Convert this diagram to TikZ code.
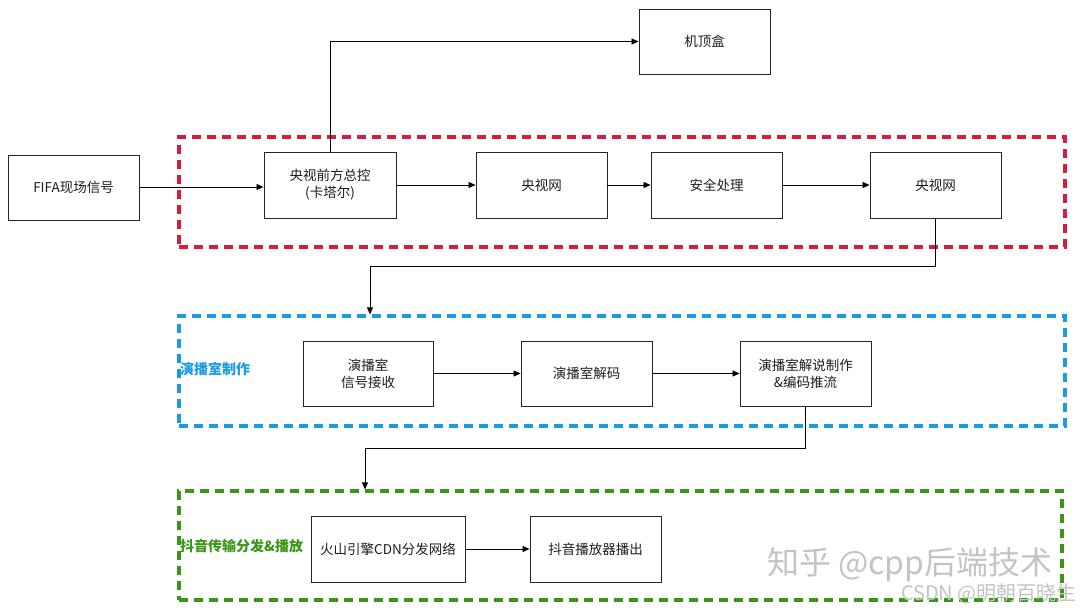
\documentclass[tikz,border=0pt]{standalone}
\usepackage{fontspec}
\setmainfont{Noto Sans CJK SC}
\usetikzlibrary{arrows.meta,positioning}
\definecolor{redc}{RGB}{214,28,58}
\definecolor{bluec}{RGB}{27,155,230}
\definecolor{greenc}{RGB}{58,150,22}
\definecolor{wm}{RGB}{196,196,196}
\definecolor{txt}{RGB}{30,30,30}
\begin{document}
\begin{tikzpicture}[x=1pt,y=-1pt,
  box/.style={draw=black!85,line width=0.9pt,minimum width=131pt,minimum height=65pt,align=center,font=\fontsize{13.5}{17}\selectfont,text=txt,inner sep=0pt},
  region/.style={line width=3.2pt,dash pattern=on 9pt off 6pt},
  conn/.style={line width=0.8pt,-{Triangle[length=7pt,width=6pt]}},
  lab/.style={font=\bfseries\fontsize{14}{17}\selectfont,anchor=west,inner sep=0pt}]
\useasboundingbox[fill=white] (0,0) rectangle (1080,611);
% regions
\node[region,draw=redc,minimum width=886pt,minimum height=110pt,inner sep=0pt] (rred) at (622,192) {};
\node[region,draw=bluec,minimum width=886pt,minimum height=110pt,inner sep=0pt] (rblue) at (622,371) {};
\node[region,draw=greenc,minimum width=883pt,minimum height=109pt,inner sep=0pt] (rgreen) at (620.5,545.5) {};
\node[lab,text=bluec] (lblue) at (180,369) {演播室制作};
\node[lab,text=greenc] (lgreen) at (180,546) {抖音传输分发\&播放};
% boxes
\node[box] (fifa) at (73.5,187.5) {FIFA现场信号};
\node[box,minimum width=132pt,minimum height=66pt] (zk) at (330,185) {央视前方总控\\(卡塔尔)};
\node[box,minimum height=66pt] (ysw1) at (541.5,185) {央视网};
\node[box,minimum height=66pt] (aq) at (716.5,185) {安全处理};
\node[box,minimum height=66pt] (ysw2) at (935.5,185) {央视网};
\node[box] (jdh) at (704.5,41.5) {机顶盒};
\node[box,minimum width=130pt] (js) at (368,373.5) {演播室\\信号接收};
\node[box] (jm) at (586.5,373.5) {演播室解码};
\node[box] (zz) at (805.5,373.5) {演播室解说制作\\\&编码推流};
\node[box,minimum width=154pt,minimum height=66pt] (cdn) at (388,549) {火山引擎CDN分发网络};
\node[box,minimum height=66pt] (dy) at (595.5,549) {抖音播放器播出};
% connectors
\draw[conn] (fifa.east |- 0,187) -- (zk.west |- 0,187);
\draw[conn] (zk.north) |- (jdh.west);
\draw[conn] (zk) -- (ysw1);
\draw[conn] (ysw1) -- (aq);
\draw[conn] (aq) -- (ysw2);
\coordinate (c1) at (370,266);
\draw[conn] (ysw2.south) |- (c1) -- (c1 |- rblue.north);
\draw[conn] (js) -- (jm);
\draw[conn] (jm) -- (zz);
\coordinate (c2) at (365,448);
\draw[conn] (zz.south) |- (c2) -- (c2 |- rgreen.north);
\draw[conn] (cdn) -- (dy);
% watermarks
\node[text=wm,font=\fontsize{32}{35}\selectfont,anchor=west,inner sep=0pt] (wm1) at (767,565) {知乎 @cpp后端技术};
\node[text=wm,font=\fontsize{20}{22}\selectfont,anchor=east,inner sep=0pt] (wm2) at (1077,594) {CSDN @明朝百晓生};
\end{tikzpicture}
\end{document}
